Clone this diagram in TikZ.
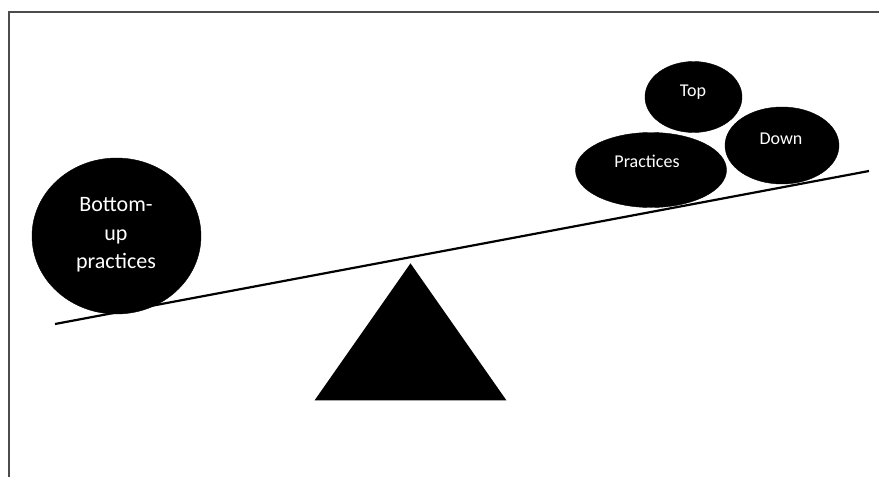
\documentclass[tikz,border=0pt]{standalone}
\usepackage{fontspec}
\setmainfont{Carlito}
\usetikzlibrary{shapes.geometric}
\begin{document}
\begin{tikzpicture}[x=1pt,y=-1pt,
  blob/.style={ellipse,fill=black,draw=black,inner sep=0pt},
  lbl/.style={text=white,inner sep=0pt,align=center,font=\fontsize{18}{20}\selectfont},
  frameline/.style={draw=black!70,line width=1.5pt},
  beam/.style={draw=black,line width=2.2pt}]
\useasboundingbox (0,0) rectangle (879,477);
\draw[frameline] (9,477) -- (9,12) -- (879,12);
% beam
\coordinate (bl) at (55,324);
\coordinate (br) at (869,171);
\draw[beam] (bl) -- (br);
% fulcrum
\node[isosceles triangle, isosceles triangle apex angle=70, shape border rotate=90, fill=black, minimum height=137pt, inner sep=0pt, anchor=apex] (fulcrum) at (410.5,263) {};
% bottom-up
\node[blob, minimum width=169pt, minimum height=156pt] (bu) at (116.5,236) {};
\node[lbl, font=\fontsize{22}{28.3}\selectfont] (bulbl) at (116,235) {Bottom-\\up\\practices};
% top-down
\node[blob, minimum width=151pt, minimum height=75pt] (prac) at (651,170) {};
\node[lbl] (praclbl) at (647,161) {Practices};
\node[blob, minimum width=97pt, minimum height=71pt] (top) at (693.5,97) {};
\node[lbl] (toplbl) at (693,92) {Top};
\node[blob, minimum width=114pt, minimum height=77pt] (down) at (782,145.5) {};
\node[lbl] (downlbl) at (781,139) {Down};
\end{tikzpicture}
\end{document}
